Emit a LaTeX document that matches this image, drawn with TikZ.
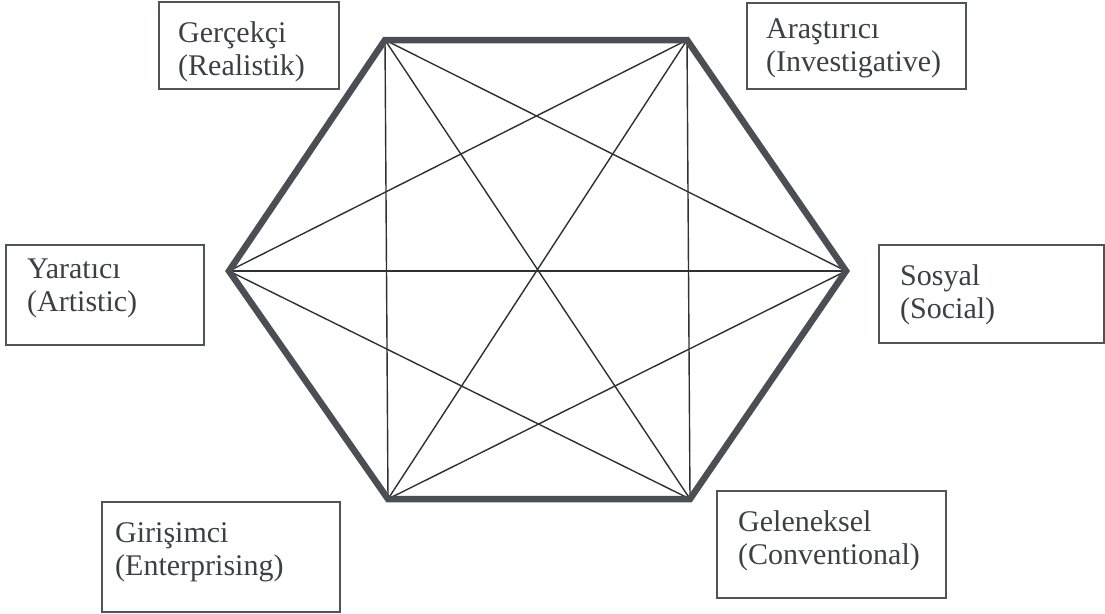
\documentclass[tikz,border=0pt]{standalone}
\usepackage{fontspec}
\setmainfont{Liberation Serif}
\definecolor{hexcol}{HTML}{4A4E55}
\definecolor{thincol}{HTML}{2E3035}
\definecolor{boxcol}{HTML}{50535A}
\definecolor{txtcol}{HTML}{3C3F45}
\begin{document}
\begin{tikzpicture}[x=1pt,y=-1pt,
  hexline/.style={draw=hexcol,line width=6.5pt,line join=miter},
  thinline/.style={draw=thincol,line width=1.4pt},
  boxnode/.style={draw=boxcol,line width=2pt,inner sep=0pt,outer sep=0pt},
  lbl/.style={text=txtcol,font=\fontsize{30}{33}\selectfont,align=left,inner sep=0pt,anchor=base west}]
\useasboundingbox (0,0) rectangle (1105,613);
% hexagon vertices
\coordinate (TL) at (385,40);
\coordinate (TR) at (687,40);
\coordinate (R) at (846,271);
\coordinate (BR) at (690,499);
\coordinate (BL) at (388,499);
\coordinate (L) at (229,271);
% diagonals
\draw[thinline] (TL) -- (BL);
\draw[thinline] (TL) -- (R);
\draw[thinline] (TL) -- (BR);
\draw[thinline] (TR) -- (BR);
\draw[thinline] (TR) -- (L);
\draw[thinline] (TR) -- (BL);
\draw[thinline] (L) -- (R);
\draw[thinline] (L) -- (BR);
\draw[thinline] (R) -- (BL);
\draw[hexline] (TL) -- (TR) -- (R) -- (BR) -- (BL) -- (L) -- cycle;
% boxes
\node[boxnode,minimum width=180pt,minimum height=87pt] (gbox) at (249,45.5) {};
\node[boxnode,minimum width=219pt,minimum height=86pt] (abox) at (856.5,45.5) {};
\node[boxnode,minimum width=198pt,minimum height=100pt] (ybox) at (105,295) {};
\node[boxnode,minimum width=225pt,minimum height=98pt] (sbox) at (991.5,294) {};
\node[boxnode,minimum width=238pt,minimum height=110pt] (ebox) at (221,557) {};
\node[boxnode,minimum width=229pt,minimum height=107pt] (cbox) at (831.5,544.5) {};
% labels (anchor = baseline of the second line)
\node[lbl] (gtxt) at (178,75) {Gerçekçi\\(Realistik)};
\node[lbl] (atxt) at (766,71) {Araştırıcı\\(Investigative)};
\node[lbl] (ytxt) at (27,311) {Yaratıcı\\(Artistic)};
\node[lbl] (stxt) at (900,318) {Sosyal\\(Social)};
\node[lbl] (etxt) at (115,575) {Girişimci\\(Enterprising)};
\node[lbl] (ctxt) at (738,564) {Geleneksel\\(Conventional)};
\end{tikzpicture}
\end{document}
